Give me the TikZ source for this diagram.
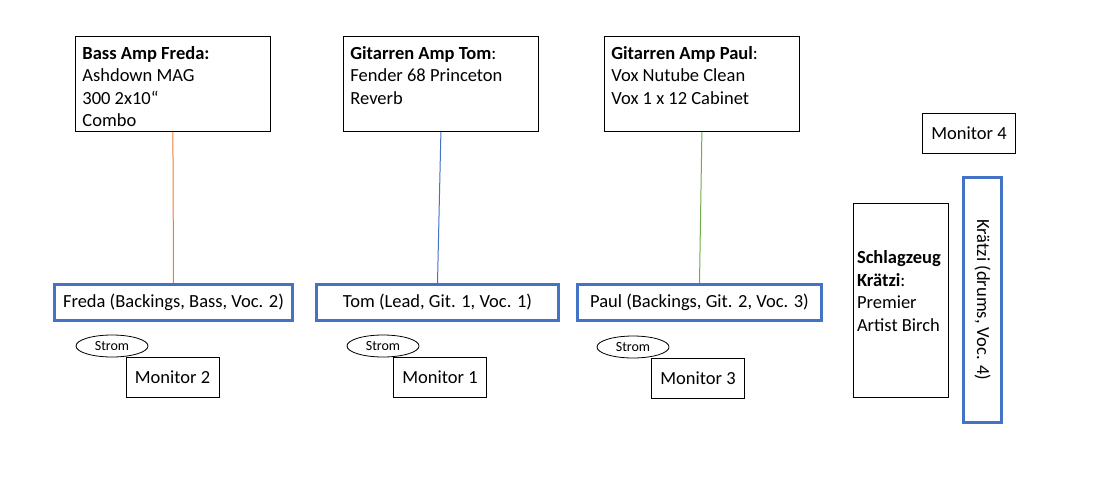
\documentclass[tikz,border=0pt]{standalone}
\usepackage{fontspec}
\setmainfont{Carlito}
\usetikzlibrary{shapes.geometric}

\definecolor{bassorange}{HTML}{ED7D31}
\definecolor{gitblue}{HTML}{4472C4}
\definecolor{gitgreen}{HTML}{70AD47}

\newcommand{\amptext}[1]{\parbox[t][75pt][t]{181pt}{#1}}

\tikzset{
  ampbox/.style={draw, line width=0.8pt, anchor=north west, inner xsep=7pt, inner ysep=10pt},
  player/.style={draw=gitblue, line width=3pt, minimum height=36, inner sep=0pt},
  monbox/.style={draw, line width=0.8pt, minimum width=93, minimum height=40, inner sep=0pt},
  strom/.style={draw, ellipse, line width=0.8pt, fill=white, minimum width=72, minimum height=22, inner sep=0pt, font=\fontsize{14}{15}\selectfont}
}

\begin{document}
\begin{tikzpicture}[x=1pt, y=-1pt, font=\fontsize{18.5}{22.5}\selectfont]

    \useasboundingbox (0,0) rectangle (1094,501);

    % Verstaerker
    \node[ampbox] (ampfreda) at (75,36) {\amptext{\textbf{Bass Amp Freda:}\\ Ashdown MAG\\ 300 2x10“\\ Combo}};
    \node[ampbox] (amptom) at (343,36) {\amptext{\textbf{Gitarren Amp Tom}:\\ Fender 68 Princeton\\ Reverb}};
    \node[ampbox] (amppaul) at (604,36) {\amptext{\textbf{Gitarren Amp Paul}:\\ Vox Nutube Clean\\ Vox 1 x 12 Cabinet}};

    % Musiker
    \node[player, minimum width=238] (freda) at (173.5,302.5) {Freda (Backings, Bass, Voc. 2)};
    \node[player, minimum width=242] (tom) at (437.5,302.5) {Tom (Lead, Git. 1, Voc. 1)};
    \node[player, minimum width=244] (paul) at (699.5,302.5) {Paul (Backings, Git. 2, Voc. 3)};

    \draw[bassorange, line width=1pt] (ampfreda.south) -- (freda.north);
    \draw[gitblue, line width=1pt] (amptom.south) -- (tom.north);
    \draw[gitgreen, line width=1pt] (amppaul.south) -- (paul.north);

    % Monitore
    \node[monbox] (mon2) at (172.5,377.5) {Monitor 2};
    \node[monbox] (mon1) at (440,377) {Monitor 1};
    \node[monbox] (mon3) at (698,378) {Monitor 3};
    \node[monbox] (mon4) at (969,133) {Monitor 4};

    \node[strom] (stromfreda) at (112,346) {Strom};
    \node[strom] (stromtom) at (383,346) {Strom};
    \node[strom] (strompaul) at (633,347) {Strom};

    % Schlagzeug
    \node[draw, line width=0.8pt, minimum height=194, inner xsep=4pt] (drums) at (900.5,300)
        {\parbox[c][180pt][c]{87pt}{\raggedright\textbf{Schlagzeug}\\ \textbf{Krätzi}:\\ Premier\\ Artist Birch\par\vspace{18pt}}};
    \node[player, rotate=-90, minimum width=245, minimum height=38] (kraetzi) at (982.5,300) {Krätzi (drums, Voc. 4)};

\end{tikzpicture}
\end{document}
